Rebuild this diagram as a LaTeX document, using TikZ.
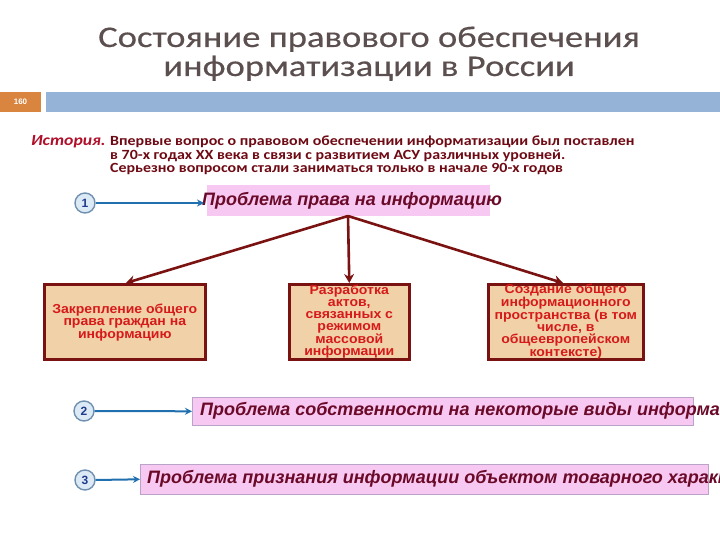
\documentclass[tikz,border=0pt]{standalone}
\usepackage{fontspec}
\setmainfont{Liberation Sans}
\newfontfamily\titlefont[FakeStretch=1.22,FakeBold=0.4]{Carlito}
\newfontfamily\introfont[FakeStretch=1.14]{Carlito}
\newfontfamily\boxfont[FakeStretch=1.08]{Liberation Sans}
\usetikzlibrary{arrows.meta}
\definecolor{titlecol}{HTML}{5C4F4F}
\definecolor{barorange}{HTML}{D9843F}
\definecolor{barblue}{HTML}{95B3D7}
\definecolor{introcol}{HTML}{6E0A14}
\definecolor{histcol}{HTML}{B0102A}
\definecolor{pinkfill}{HTML}{F7C8F2}
\definecolor{pinkline}{HTML}{B9A3C9}
\definecolor{pinktext}{HTML}{6A0A28}
\definecolor{arrblue}{HTML}{2070B0}
\definecolor{circfill}{HTML}{DCEAF6}
\definecolor{circline}{HTML}{7090B0}
\definecolor{circnum}{HTML}{1F3A8A}
\definecolor{tanfill}{HTML}{F1D2A8}
\definecolor{tanline}{HTML}{7A1212}
\definecolor{tantext}{HTML}{D61A1A}
\tikzset{
  numcirc/.style={circle,draw=circline,line width=1.4pt,fill=circfill,minimum size=20pt,inner sep=0pt,
    font=\fontsize{12}{12}\selectfont\bfseries,text=circnum},
  bluearrow/.style={draw=arrblue,line width=2pt,-{Stealth[length=7pt,width=7pt]}},
  redarrow/.style={draw=tanline,line width=2.6pt,-{Stealth[length=9pt,width=10pt]}},
  pinkbox/.style={fill=pinkfill,draw=pinkline,line width=0.6pt,inner sep=0pt,anchor=north west},
  pinklabel/.style={anchor=west,inner sep=0pt,text=pinktext,font=\fontsize{18}{18}\selectfont\bfseries\itshape},
  tanbox/.style={fill=tanfill,draw=tanline,line width=2.6pt,inner sep=0pt,anchor=north west},
  tanlabel/.style={align=center,text=tantext,inner sep=0pt,font=\boxfont\bfseries\fontsize{13}{12}\selectfont},
  introline/.style={anchor=base west,inner sep=0pt,text=introcol,font=\introfont\bfseries\fontsize{14}{14}\selectfont},
  titleline/.style={anchor=base,inner sep=0pt,text=titlecol,font=\titlefont\fontsize{30}{30}\selectfont}
}
\begin{document}
\begin{tikzpicture}[x=1pt,y=-1pt]
\useasboundingbox (0,0) rectangle (720,540);
\clip (0,0) rectangle (720,540);
\fill[white] (0,0) rectangle (720,540);
% title
\node[titleline] (title1) at (369,47) {Состояние правового обеспечения};
\node[titleline] (title2) at (369,76) {информатизации в России};
% bar
\fill[barorange] (0,92) rectangle (41,112);
\node[text=white,font=\fontsize{8}{8}\selectfont\bfseries,inner sep=0pt] (pg) at (20.5,102) {160};
\fill[barblue] (46,92) rectangle (720,112);
% intro
\node[anchor=base west,inner sep=0pt,text=histcol,font=\introfont\bfseries\itshape\fontsize{15.5}{15.5}\selectfont] (hist) at (31,146) {История.};
\node[introline] (l1) at (110,146) {Впервые вопрос о правовом обеспечении информатизации был поставлен};
\node[introline] (l2) at (110,159.5) {в 70-х годах XX века в связи с развитием АСУ различных уровней.};
\node[introline] (l3) at (110,172.5) {Серьезно вопросом стали заниматься только в начале 90-х годов};
% problem 1
\node[pinkbox,draw=none,minimum width=283pt,minimum height=31pt] (p1) at (207,185) {};
\node[pinklabel] (p1t) at (202,201) {Проблема права на информацию};
\node[numcirc] (c1) at (85,203) {1};
\coordinate (p1in) at (204,203);
\draw[bluearrow] (c1.east) -- (p1in);
% tan boxes
\node[tanbox,minimum width=161pt,minimum height=75pt] (b1) at (43,283) {};
\node[tanlabel] at ([yshift=-1pt]b1.center) {Закрепление общего\\права граждан на\\информацию};
\node[tanbox,minimum width=120pt,minimum height=75pt] (b2) at (288,283) {};
\node[tanlabel] at (b2.center) {Разработка\\актов,\\связанных с\\режимом\\массовой\\информации};
\node[tanbox,minimum width=155pt,minimum height=75pt] (b3) at (487,283) {};
\node[tanlabel] at (b3.center) {Создание общего\\информационного\\пространства (в том\\числе, в\\общеевропейском\\контексте)};
\coordinate (fan) at (348,216);
\draw[redarrow] (fan) -- (126,283);
\draw[redarrow] (fan) -- (b2.north);
\draw[redarrow] (fan) -- (563,283);
% problem 2
\node[pinkbox,minimum width=501pt,minimum height=28pt] (p2) at (192,397) {};
\node[pinklabel] (p2t) at (200,411) {Проблема собственности на некоторые виды информации};
\node[numcirc] (c2) at (84,411) {2};
\draw[bluearrow] (c2.east) -- (p2.west);
% problem 3
\node[pinkbox,minimum width=568pt,minimum height=30pt] (p3) at (140,464) {};
\node[pinklabel] (p3t) at (147,479) {Проблема признания информации объектом товарного характера};
\node[numcirc] (c3) at (85,480) {3};
\draw[bluearrow] (c3.east) -- (p3.west);
\end{tikzpicture}
\end{document}
